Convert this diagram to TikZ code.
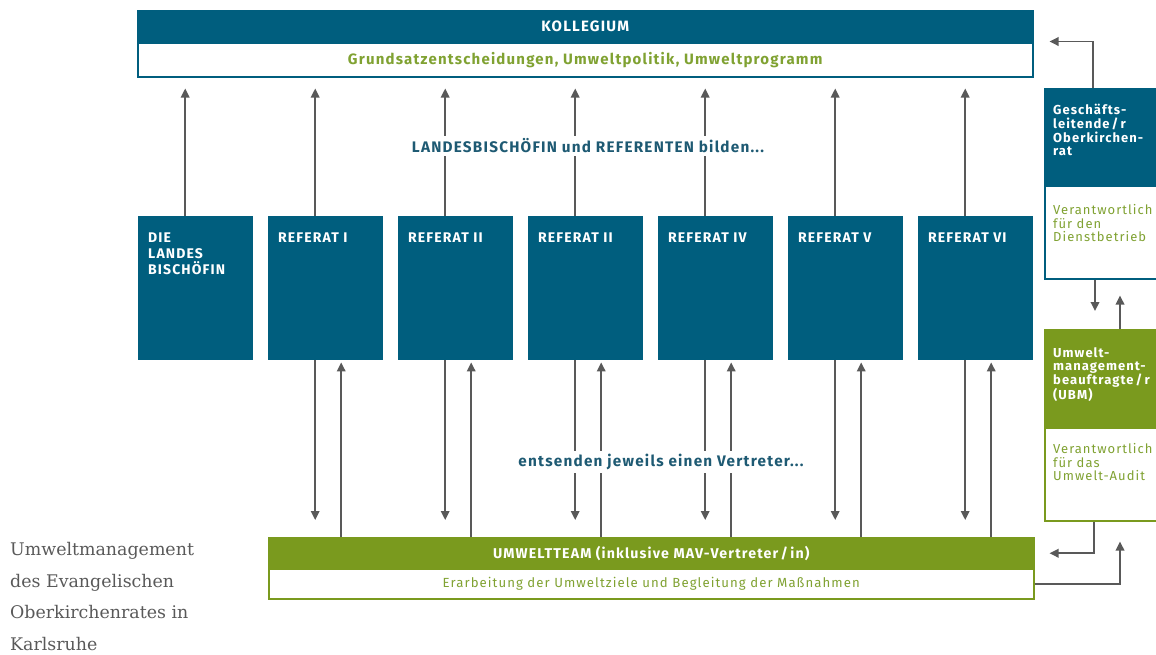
\documentclass[tikz,border=0pt]{standalone}
\usepackage{fontspec}
\setmainfont{Fira Sans}
\newfontfamily\spacedfont[LetterSpace=8]{Fira Sans}
\newfontfamily\capfont{DejaVu Serif}
\usetikzlibrary{arrows.meta}

\definecolor{okrblue}{HTML}{005E7E}
\definecolor{okrgreen}{HTML}{7A9A1E}
\definecolor{okrtext}{HTML}{80A232}
\definecolor{okrgray}{HTML}{595959}
\definecolor{okrlabel}{HTML}{1E5A73}

\tikzset{
    arr/.style={draw=okrgray, line width=1.8pt, -{Triangle[length=9pt,width=8.5pt]}},
    bluehead/.style={fill=okrblue, draw=okrblue, line width=1.5pt, inner sep=0pt, text=white,
        font=\spacedfont\bfseries\fontsize{15}{17}\selectfont},
    bluebody/.style={fill=white, draw=okrblue, line width=1.5pt, inner sep=0pt, text=okrtext,
        font=\spacedfont\bfseries\fontsize{15}{17}\selectfont},
    greenhead/.style={bluehead, fill=okrgreen, draw=okrgreen},
    greenbody/.style={bluebody, draw=okrgreen},
    refbox/.style={fill=okrblue, inner sep=0pt, anchor=north west, minimum width=115pt, minimum height=144pt},
    reftext/.style={anchor=north west, inner sep=0pt, align=left, text=white,
        font=\spacedfont\bfseries\fontsize{14}{15.7}\selectfont},
    sidetext/.style={anchor=north west, inner sep=0pt, align=left,
        font=\spacedfont\fontsize{13}{13.8}\selectfont},
    midtext/.style={fill=white, inner sep=3pt, text=okrlabel,
        font=\spacedfont\bfseries\fontsize{15.3}{17}\selectfont},
}

\begin{document}
\begin{tikzpicture}[x=1pt, y=-1pt]
    \useasboundingbox (0,0) rectangle (1156,654);
    \clip (0,0) rectangle (1156,654);

    % Kollegium
    \node at (137,10) [bluehead, anchor=north west, minimum width=895pt, minimum height=32pt] (kolleg) {KOLLEGIUM};
    \node at (137,42) [bluebody, anchor=north west, minimum width=895pt, minimum height=34pt] (grund)
        {Grundsatzentscheidungen, Umweltpolitik, Umweltprogramm};

    % Referate
    \foreach \lbl [count=\i from 0] in {{DIE\\LANDES\\BISCHÖFIN},{REFERAT I},{REFERAT II},{REFERAT II},{REFERAT IV},{REFERAT V},{REFERAT VI}} {
        \node at (138+130*\i,216) [refbox] (ref\i) {};
        \node at ([xshift=10pt,yshift=-17pt]ref\i.north west) [reftext] (reft\i) {\lbl};
        \draw [arr, shorten >=11pt] ([xshift=-10.5pt]ref\i.north) -- ([xshift=-10.5pt]ref\i.north |- grund.south);
    }

    % Umweltteam
    \node at (268,537) [greenhead, anchor=north west, minimum width=765pt, minimum height=31pt,
        font=\spacedfont\bfseries\fontsize{14.2}{16}\selectfont] (team)
        {UMWELTTEAM (inklusive MAV-Vertreter\,/\,in)};
    \node at (268,568) [greenbody, anchor=north west, minimum width=765pt, minimum height=30pt,
        font=\spacedfont\fontsize{13.2}{15}\selectfont] (ziele)
        {Erarbeitung der Umweltziele und Begleitung der Maßnahmen};

    \foreach \i in {1,...,6} {
        \draw [arr, shorten >=17pt] ([xshift=-10.5pt]ref\i.south) -- ([xshift=-10.5pt]ref\i.south |- team.north);
        \draw [arr, shorten >=2pt] ([xshift=15.5pt]ref\i.south |- team.north) -- ([xshift=15.5pt]ref\i.south);
    }

    \node at (588,146) [midtext] (bilden) {LANDESBISCHÖFIN und REFERENTEN bilden...};
    \node at (661,462) [midtext] (entsenden) {entsenden jeweils einen Vertreter...};

    % rechte Spalte
    \node at (1044,88) [bluehead, anchor=north west, minimum width=130pt, minimum height=97pt] (gesch) {};
    \node at (1044,185) [bluebody, anchor=north west, minimum width=130pt, minimum height=93pt] (geschbody) {};
    \node at ([xshift=9pt,yshift=-16pt]gesch.north west) [sidetext, text=white, font=\spacedfont\bfseries\fontsize{13}{13.8}\selectfont] (gescht)
        {Geschäfts-\\leitende\,/\,r\\Oberkirchen-\\rat};
    \node at ([xshift=9pt,yshift=-19pt]geschbody.north west) [sidetext, text=okrtext] (geschbt)
        {Verantwortlich\\für den\\Dienstbetrieb};

    \node at (1044,329) [greenhead, anchor=north west, minimum width=130pt, minimum height=98pt] (ubm) {};
    \node at (1044,427) [greenbody, anchor=north west, minimum width=130pt, minimum height=93pt] (ubmbody) {};
    \node at ([xshift=9pt,yshift=-18pt]ubm.north west) [sidetext, text=white, font=\spacedfont\bfseries\fontsize{13}{13.8}\selectfont] (ubmt)
        {Umwelt-\\management-\\beauftragte\,/\,r\\(UBM)};
    \node at ([xshift=9pt,yshift=-16pt]ubmbody.north west) [sidetext, text=okrtext] (ubmbt)
        {Verantwortlich\\für das\\Umwelt-Audit};

    \draw [arr] ([xshift=49pt]gesch.north west) |- ([xshift=16pt,yshift=2pt]kolleg.south east);
    \draw [arr, shorten >=18pt] ([xshift=51pt]geschbody.south west) -- ([xshift=51pt]ubm.north west);
    \draw [arr, shorten >=16pt] ([xshift=76pt]ubm.north west) -- ([xshift=76pt]geschbody.south west);
    \draw [arr] ([xshift=50pt]ubmbody.south west) |- ([xshift=15pt]team.east);
    \draw [arr, shorten >=20pt] (ziele.east) -| ([xshift=76pt]ubmbody.south west);

    % Titel
    \node at (10,542) [anchor=north west, inner sep=0pt, align=left, text=okrgray,
        font=\capfont\fontsize{17.4}{31.7}\selectfont] (titel)
        {Umweltmanagement\\des Evangelischen\\Oberkirchenrates in\\Karlsruhe};

\end{tikzpicture}
\end{document}
